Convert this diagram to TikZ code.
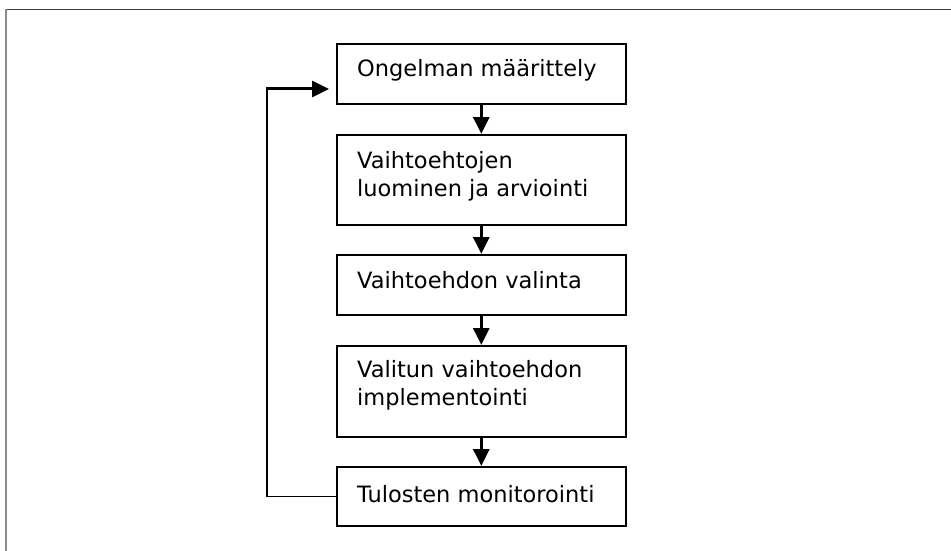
\documentclass[tikz,border=0pt]{standalone}
\usepackage{fontspec}
\setmainfont{DejaVu Sans}
\usetikzlibrary{arrows.meta}
\begin{document}
\begin{tikzpicture}[x=1pt,y=-1pt,
  stagebox/.style={draw,line width=1.6pt,rectangle,anchor=north west,inner sep=0pt},
  stagetext/.style={anchor=base west,inner sep=0pt,font=\fontsize{22.5}{28}\selectfont,align=left},
  flowarrow/.style={line width=3pt,-{Triangle[length=17pt,width=16pt]}},
  backline/.style={line width=1.4pt}]
  \useasboundingbox (0,0) rectangle (951,551);
  % page frame
  \draw[line width=1.6pt,color=black!75] (6,9.5) -- (951,9.5);
  \draw[line width=1.8pt,color=black!45] (6,9.5) -- (6,551);
  % stages
  \node[stagebox,minimum width=289pt,minimum height=60pt] (b1) at (336,43) {};
  \node[stagebox,minimum width=289pt,minimum height=90pt] (b2) at (336,134) {};
  \node[stagebox,minimum width=289pt,minimum height=60pt] (b3) at (336,254) {};
  \node[stagebox,minimum width=289pt,minimum height=91pt] (b4) at (336,345) {};
  \node[stagebox,minimum width=289pt,minimum height=59pt] (b5) at (336,466) {};
  % labels (two-line labels sit on the baseline of their last line)
  \node[stagetext] (t1) at (357,77) {Ongelman määrittely};
  \node[stagetext] (t2) at (357,196) {Vaihtoehtojen\\luominen ja arviointi};
  \node[stagetext] (t3) at (357,288) {Vaihtoehdon valinta};
  \node[stagetext] (t4) at (357,405) {Valitun vaihtoehdon\\implementointi};
  \node[stagetext] (t5) at (357,502) {Tulosten monitorointi};
  % flow
  \draw[flowarrow] (b1.south) -- (b2.north);
  \draw[flowarrow] (b2.south) -- (b3.north);
  \draw[flowarrow] (b3.south) -- (b4.north);
  \draw[flowarrow] (b4.south) -- (b5.north);
  % feedback loop
  \coordinate (corner) at (267,89);
  \coordinate (entry) at (336,89);
  \draw[backline] (b5.west) -| (corner);
  \draw[flowarrow,shorten >=7pt] ([xshift=-0.7pt]corner) -- (entry);
\end{tikzpicture}
\end{document}
